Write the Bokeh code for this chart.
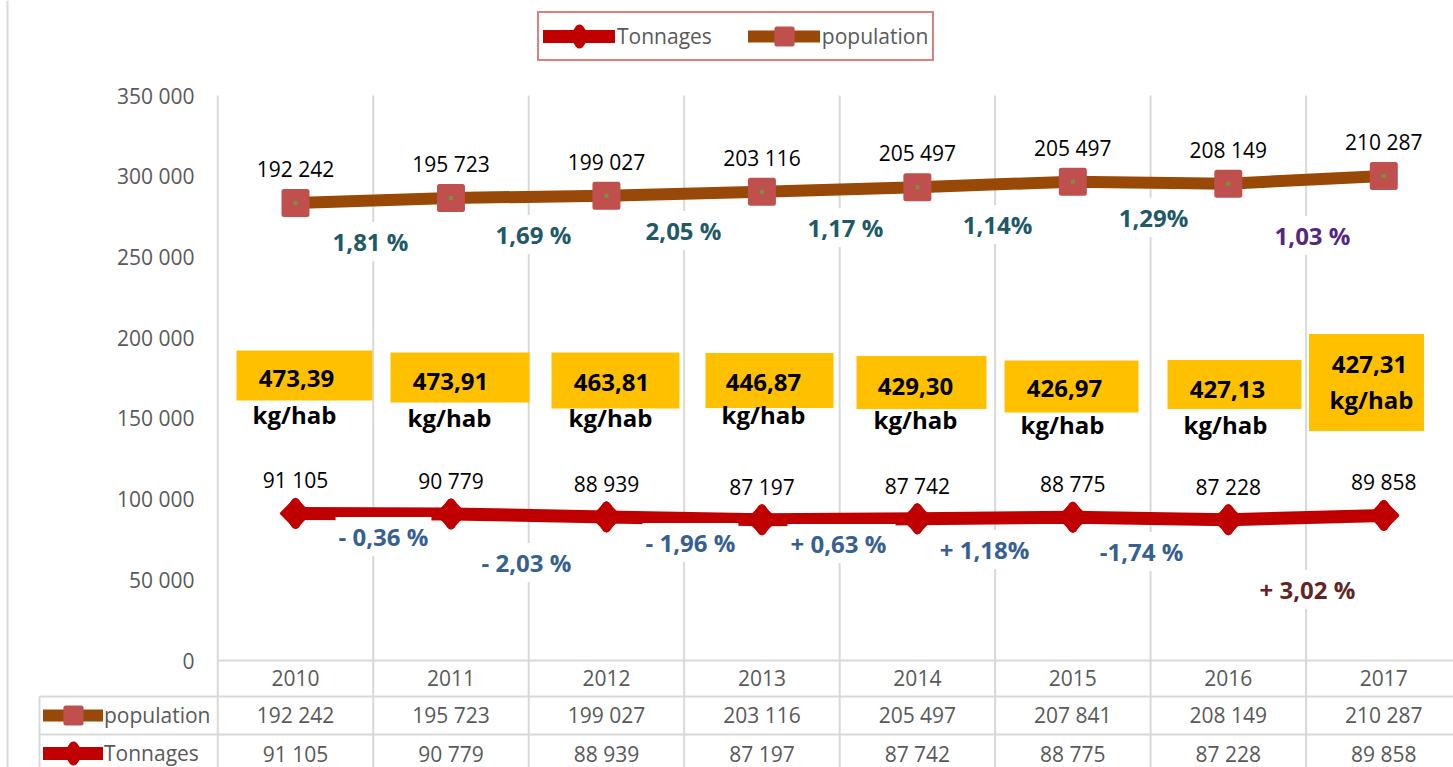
from bokeh.plotting import figure
from bokeh.models import (Range1d, FixedTicker, CustomJSTickFormatter, Legend, LegendItem,
                          ColumnDataSource)
from bokeh.embed import file_html
from bokeh.resources import INLINE
from bokeh.core.properties import value

# ---------------- data ----------------
years = ["2010", "2011", "2012", "2013", "2014", "2015", "2016", "2017"]
population = [192242, 195723, 199027, 203116, 205497, 207841, 208149, 210287]
tonnages = [91105, 90779, 88939, 87197, 87742, 88775, 87228, 89858]
# labels as printed on the chart itself (text boxes)
pop_chart_labels = ["192 242", "195 723", "199 027", "203 116", "205 497", "205 497", "208 149", "210 287"]
kg_per_hab = [473.39, 473.91, 463.81, 446.87, 429.30, 426.97, 427.13, 427.31]
pop_change = ["1,81 %", "1,69  %", "2,05 %", "1,17 %", "1,14%", "1,29%", "1,03 %"]
ton_change = ["- 0,36 %", "- 2,03 %", "- 1,96 %", "+ 0,63  %", "+ 1,18%", "-1,74 %", "+ 3,02 %"]
y_ticks = [0, 50000, 100000, 150000, 200000, 250000, 300000, 350000]

# ---------------- layout helpers (page pixel -> data) ----------------
W, H = 1453, 767
BAND = 155.47
K = 350000 / 565.0


def xd(px):
    return (px - 295.0) / BAND


def yd(py):
    return (660.0 - py) * K


def fmt(v):
    return f"{v:,}".replace(",", " ")


FONT = value("Open Sans")
idx = list(range(len(years)))
pop_stacked = [t + q for t, q in zip(tonnages, population)]

p = figure(width=W, height=H, x_range=Range1d(xd(0), xd(W)), y_range=Range1d(yd(H), yd(0)),
           output_backend="svg", toolbar_location=None, x_axis_location=None,
           min_border_left=0, min_border_right=0, min_border_top=0, min_border_bottom=0)
p.grid.visible = False
p.outline_line_color = None
p.background_fill_color = "white"
p.border_fill_color = "white"

ya = p.yaxis[0]
ya.ticker = FixedTicker(ticks=y_ticks)
ya.formatter = CustomJSTickFormatter(code="return tick.toString().replace(/\\B(?=(\\d{3})+(?!\\d))/g, ' ');")
ya.axis_line_color = None
ya.major_tick_line_color = None
ya.minor_tick_line_color = None
ya.major_tick_out = 0
ya.major_tick_in = 0
ya.major_label_standoff = -194
ya.major_label_text_font = "Open Sans"
ya.major_label_text_font_size = "21px"
ya.major_label_text_color = "#595959"

GRID = "#D9D9D9"
# chart area border (left)
p.segment(x0=[xd(7)], x1=[xd(7)], y0=[yd(0)], y1=[yd(H)], line_color=GRID, line_width=2)
# vertical category boundaries (plot + table)
bounds = [i - 0.5 for i in range(len(years) + 1)]
p.segment(x0=bounds, x1=bounds, y0=[yd(H + 5)] * len(bounds), y1=[y_ticks[-1]] * len(bounds),
          line_color=GRID, line_width=2)
# horizontal table lines
p.segment(x0=[-0.5, xd(39), xd(39)], x1=[len(years) - 0.5] * 3, y0=[0, yd(696), yd(734)],
          y1=[0, yd(696), yd(734)], line_color=GRID, line_width=2)
# table row-header left edge
p.segment(x0=[xd(39)], x1=[xd(39)], y0=[yd(696)], y1=[yd(H + 5)], line_color=GRID, line_width=2)

src = ColumnDataSource(dict(x=idx, ton=tonnages, pop=pop_stacked,
                            ton_lbl=[fmt(v) for v in tonnages], pop_lbl=pop_chart_labels))

RED = "#C00000"
BROWN = "#984807"
r_tl = p.line("x", "ton", source=src, line_color=RED, line_width=13, line_join="round", line_cap="round")
# diamond (used for the legend key), covered by the rounded rotated square drawn on top
r_tm = p.scatter("x", "ton", source=src, marker="diamond", size=22,
                 fill_color=RED, line_color=RED, line_width=9, line_join="round")
p.scatter("x", "ton", source=src, marker="square", angle=45, angle_units="deg", size=19,
          fill_color=RED, line_color=RED, line_width=4, line_join="round")
r_pl = p.line("x", "pop", source=src, line_color=BROWN, line_width=12, line_join="round", line_cap="round")
r_pm = p.scatter("x", "pop", source=src, marker="square", size=23, fill_color="#C0504D",
                 line_color="#C0504D", line_width=5, line_join="round")
p.scatter("x", "pop", source=src, marker="square", size=4, fill_color="#77933C", line_color=None)

# data labels
p.text("x", "pop", text="pop_lbl", source=src, y_offset=-34, text_align="center", text_baseline="middle",
       text_font=FONT, text_font_size="21px", text_color="black")
p.text("x", "ton", text="ton_lbl", source=src, y_offset=-33, text_align="center", text_baseline="middle",
       text_font=FONT, text_font_size="21px", text_color="black")

# percentage change labels (text boxes)
pop_pct_px = [370, 536, 683, 845, 997, 1153, 1312]
pop_pct_py = [241, 234, 230, 227, 224, 217, 235]
pop_pct_col = ["#215967"] * 6 + ["#55287F"]
p.text(x=[xd(v) for v in pop_pct_px], y=[yd(v) for v in pop_pct_py], text=pop_change,
       text_color=pop_pct_col, text_align="center", text_baseline="middle",
       text_font=FONT, text_font_style="bold", text_font_size="24px",
       background_fill_color="white", padding=3)
ton_pct_px = [383, 526, 690, 841, 984, 1141, 1307]
ton_pct_py = [536, 562, 542, 543, 549, 551, 589]
ton_pct_col = ["#366092"] * 6 + ["#632523"]
p.text(x=[xd(v) for v in ton_pct_px], y=[yd(v) for v in ton_pct_py], text=ton_change,
       text_color=ton_pct_col, text_align="center", text_baseline="middle",
       text_font=FONT, text_font_style="bold", text_font_size="24px",
       background_fill_color="white", padding=3)

# kg/hab boxes
box_px = [304, 459.5, 615, 769, 921, 1071, 1234, 1366]
box_py = [375, 377, 380, 380, 382, 386, 384, 382]
box_w = [136, 139, 128, 128, 130, 134, 134, 115]
box_h = [50, 50, 56, 55, 53, 52, 49, 97]
p.rect(x=[xd(v) for v in box_px], y=[yd(v) for v in box_py], width=box_w, height=box_h,
       width_units="screen", height_units="screen", fill_color="#FFC000", line_color=None)
val_px = [296, 450, 611, 763, 915, 1064, 1227, 1369]
val_py = [378, 381, 382, 382, 386, 388, 389, 364]
p.text(x=[xd(v) for v in val_px], y=[yd(v) for v in val_py],
       text=[f"{v:.2f}".replace(".", ",") for v in kg_per_hab],
       text_align="center", text_baseline="middle", text_font=FONT, text_font_style="bold",
       text_font_size="24px", text_color="black")
unit_px = [294, 449, 610, 763, 915, 1062, 1225, 1371]
unit_py = [414, 417, 417, 414, 419, 424, 424, 399]
p.text(x=[xd(v) for v in unit_px], y=[yd(v) for v in unit_py], text=["kg/hab"] * len(years),
       text_align="center", text_baseline="middle", text_font=FONT, text_font_style="bold",
       text_font_size="24px", text_color="black")

# data table
p.text(x=idx, y=[yd(677)] * len(years), text=years, text_align="center", text_baseline="middle",
       text_font=FONT, text_font_size="21px", text_color="#595959")
p.text(x=idx, y=[yd(714)] * len(years), text=[fmt(v) for v in population], text_align="center",
       text_baseline="middle", text_font=FONT, text_font_size="21px", text_color="#595959")
p.text(x=idx, y=[yd(753)] * len(years), text=[fmt(v) for v in tonnages], text_align="center",
       text_baseline="middle", text_font=FONT, text_font_size="21px", text_color="#595959")

# legends
leg_top = Legend(items=[LegendItem(label="Tonnages", renderers=[r_tl, r_tm]),
                        LegendItem(label="population", renderers=[r_pl, r_pm])],
                 orientation="horizontal", location=(537, H - 61), padding=4, spacing=36,
                 glyph_width=72, glyph_height=38, label_height=38, label_standoff=2, margin=0,
                 border_line_color=RED, border_line_width=2,
                 label_text_font="Open Sans", label_text_font_size="21px", label_text_color="#595959",
                 background_fill_color="white", background_fill_alpha=1)
p.add_layout(leg_top)
leg_tab = Legend(items=[LegendItem(label="population", renderers=[r_pl, r_pm]),
                        LegendItem(label="Tonnages", renderers=[r_tl, r_tm])],
                 orientation="vertical", location=(43, H - 772), padding=0, spacing=0,
                 glyph_width=60, glyph_height=38, label_height=38, label_standoff=1, margin=0,
                 border_line_color=None, background_fill_alpha=0,
                 label_text_font="Open Sans", label_text_font_size="21px", label_text_color="#595959")
p.add_layout(leg_tab)

open("out.html", "w").write(file_html(p, INLINE, title="Tonnages et population"))
